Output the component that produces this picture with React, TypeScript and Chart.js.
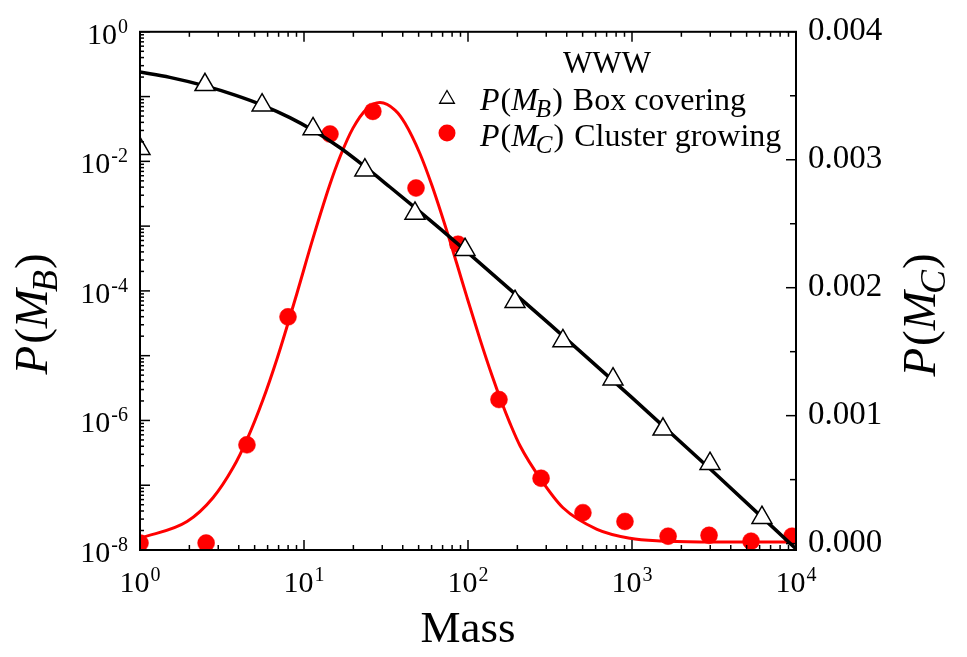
import React, { useEffect, useRef } from 'react';
import { Chart, registerables } from 'chart.js';
Chart.register(...registerables);

const FONT = '"Liberation Serif", "Times New Roman", serif';

// x axis (Mass) decades and tick exponents
const massTickExponents = [0, 1, 2, 3, 4];
const pbTickExponents = [0, -2, -4, -6, -8];
const pcTicks = [0, 0.001, 0.002, 0.003, 0.004];

// P(M_B) Box covering (open triangles)
const boxMass = [1, 2.49, 5.55, 11.35, 23.5, 47.5, 95.9, 193.5, 379, 766, 1545, 2990, 6200];
const boxP = [0.0157, 0.152, 0.0735, 0.0316, 0.00731, 0.00157, 4.33e-4, 6.8e-5, 1.69e-5, 4.33e-6, 7.3e-7, 2.15e-7, 3.16e-8];

// black fitted curve
const boxFitMass = [1, 1.52, 2.49, 3.8, 5.55, 8.2, 11.35, 16.6, 23.5, 33.4, 47.5, 67.5, 95.9, 316, 1000, 3162, 10000];
const boxFitP = [0.2392, 0.1981, 0.1463, 0.1054, 0.0741, 0.0474, 0.0302, 0.01619, 0.00828, 0.00402, 0.001927, 0.000913, 0.000427, 3.04e-5, 2.25e-6, 1.57e-7, 1.04e-8];

// P(M_C) Cluster growing (red dots)
const clusterMass = [1, 2.53, 4.49, 7.99, 14.4, 26.3, 48.2, 86.9, 154.5, 279, 502, 906, 1660, 2950, 5320, 9460];
const clusterP = [0.000004, 0.000004, 0.000772, 0.001772, 0.003201, 0.003378, 0.002779, 0.00234, 0.001126, 0.000511, 0.000242, 0.000173, 0.000058, 0.000065, 0.000019, 0.000058];

// red fitted curve
const clusterFitMass = [1, 1.935, 2.787, 3.69, 4.49, 5.62, 6.85, 7.99, 9.07, 11.34, 14.4, 16.58, 19.89, 24.22, 29.07, 35.88, 41.3, 50.96, 60.3, 74.5, 85.7, 98.6, 118.4, 140.1, 158.9, 180.4, 207.6, 278.7, 379.6, 611.8, 972, 1482, 2598, 10000];
const clusterFitP = [0.000042, 0.000172, 0.000358, 0.000592, 0.000813, 0.001124, 0.001445, 0.001722, 0.001959, 0.002385, 0.002808, 0.003023, 0.003247, 0.0034, 0.003447, 0.003388, 0.003285, 0.003047, 0.002798, 0.002438, 0.002183, 0.001924, 0.001596, 0.001313, 0.001118, 0.00094, 0.000765, 0.0005, 0.00028, 0.000112, 0.000042, 0.00002, 0.000013, 0.000012];

const legendTitle = 'WWW';

type Part = { t: string; size: number; italic?: boolean; dy?: number; gap?: number };

function fontOf(p: Part) {
  return `${p.italic ? 'italic ' : ''}${p.size}px ${FONT}`;
}
function richWidth(ctx: CanvasRenderingContext2D, parts: Part[]) {
  let w = 0;
  for (const p of parts) {
    ctx.font = fontOf(p);
    w += (p.gap || 0) + ctx.measureText(p.t).width;
  }
  return w;
}
function drawRich(ctx: CanvasRenderingContext2D, parts: Part[], x: number, y: number, align: 'left' | 'center' | 'right') {
  const w = richWidth(ctx, parts);
  let cx = align === 'left' ? x : align === 'center' ? x - w / 2 : x - w;
  ctx.textAlign = 'left';
  ctx.textBaseline = 'alphabetic';
  for (const p of parts) {
    ctx.font = fontOf(p);
    cx += p.gap || 0;
    ctx.fillText(p.t, cx, y + (p.dy || 0));
    cx += ctx.measureText(p.t).width;
  }
}

const framePlugin = {
  id: 'frameAndText',
  afterDraw(chart: any) {
    const { ctx, chartArea: a, scales } = chart;
    const xs = scales.x;
    const yB = scales.yB;
    const yC = scales.yC;
    ctx.save();
    ctx.strokeStyle = '#000';
    ctx.fillStyle = '#000';
    const seg = (x1: number, y1: number, x2: number, y2: number) => {
      ctx.beginPath();
      ctx.moveTo(x1, y1);
      ctx.lineTo(x2, y2);
      ctx.stroke();
    };
    // ticks
    ctx.lineWidth = 1.5;
    for (let e = 0; e <= 4; e++) {
      for (let m = 1; m <= 9; m++) {
        const v = m * Math.pow(10, e);
        if (v > 10000) break;
        const px = xs.getPixelForValue(v);
        const len = m === 1 ? 10 : 5;
        seg(px, a.bottom, px, a.bottom - len);
        seg(px, a.top, px, a.top + len);
      }
    }
    for (let e = -8; e <= 0; e++) {
      for (let m = 1; m <= 9; m++) {
        const v = m * Math.pow(10, e);
        if (v > 1) break;
        const py = yB.getPixelForValue(v);
        const len = m === 1 ? 10 : 4;
        seg(a.left, py, a.left + len, py);
      }
    }
    for (let k = 0; k <= 8; k++) {
      const py = yC.getPixelForValue(k * 0.0005);
      seg(a.right, py, a.right - (k % 2 === 0 ? 10 : 6), py);
    }
    // frame
    ctx.lineWidth = 2;
    ctx.strokeRect(a.left, a.top, a.right - a.left, a.bottom - a.top);

    // x tick labels
    for (const e of massTickExponents) {
      const px = xs.getPixelForValue(Math.pow(10, e));
      drawRich(ctx, [
        { t: '10', size: 30 },
        { t: String(e), size: 20, dy: -11, gap: 1 },
      ], px, a.bottom + 42, 'center');
    }
    // left tick labels
    for (const e of pbTickExponents) {
      const py = yB.getPixelForValue(Math.pow(10, e));
      drawRich(ctx, [
        { t: '10', size: 30 },
        { t: String(e), size: 20, dy: -11, gap: 1 },
      ], a.left - 12, py + 12, 'right');
    }

    // x title
    drawRich(ctx, [{ t: 'Mass', size: 45 }], 468, 642, 'center');

    // y titles
    const title = (sub: string, cx: number, cy: number) => {
      ctx.save();
      ctx.translate(cx, cy);
      ctx.rotate(-Math.PI / 2);
      drawRich(ctx, [
        { t: 'P', size: 47, italic: true },
        { t: '(', size: 47, gap: 2 },
        { t: 'M', size: 47, italic: true },
        { t: sub, size: 36, italic: true, dy: 10, gap: -3 },
        { t: ')', size: 47, gap: 1 },
      ], 0, 0, 'center');
      ctx.restore();
    };
    title('B', 47, 314);
    title('C', 935, 315);

    // legend
    drawRich(ctx, [{ t: legendTitle, size: 31 }], 607, 73, 'center');
    const tx = 447, ty = 99, r = 8.5;
    ctx.lineWidth = 1.3;
    ctx.fillStyle = '#fff';
    ctx.beginPath();
    ctx.moveTo(tx, ty - r);
    ctx.lineTo(tx + r * Math.sin(Math.PI / 3), ty + r * 0.5);
    ctx.lineTo(tx - r * Math.sin(Math.PI / 3), ty + r * 0.5);
    ctx.closePath();
    ctx.fill();
    ctx.stroke();
    ctx.fillStyle = '#ff0000';
    ctx.beginPath();
    ctx.arc(447, 133, 8.5, 0, Math.PI * 2);
    ctx.fill();
    ctx.fillStyle = '#000';
    const row = (sub: string, text: string, y: number) => {
      drawRich(ctx, [
        { t: 'P', size: 32, italic: true },
        { t: '(', size: 32, gap: 1 },
        { t: 'M', size: 32, italic: true },
        { t: sub, size: 25, italic: true, dy: 7, gap: -2 },
        { t: ')', size: 32, gap: 1 },
        { t: text, size: 32, gap: 10 },
      ], 480, y, 'left');
    };
    row('B', 'Box covering', 110);
    row('C', 'Cluster growing', 146);
    ctx.restore();
  },
};

export default function App() {
  const ref = useRef<HTMLCanvasElement>(null);
  useEffect(() => {
    const chart = new Chart(ref.current as HTMLCanvasElement, {
      type: 'line',
      data: {
        datasets: [
          {
            label: 'P(M_B) Box covering',
            data: boxMass.map((m, i) => ({ x: m, y: boxP[i] })),
            yAxisID: 'yB',
            showLine: false,
            pointStyle: 'triangle',
            pointRadius: 11.5,
            pointBackgroundColor: '#ffffff',
            pointBorderColor: '#000000',
            pointBorderWidth: 1.5,
            borderColor: '#000000',
            clip: 0,
            order: 0,
          },
          {
            label: 'Box fit',
            data: boxFitMass.map((m, i) => ({ x: m, y: boxFitP[i] })),
            yAxisID: 'yB',
            borderColor: '#000000',
            borderWidth: 3.5,
            pointRadius: 0,
            cubicInterpolationMode: 'monotone',
            clip: 0,
            order: 1,
          },
          {
            label: 'P(M_C) Cluster growing',
            data: clusterMass.map((m, i) => ({ x: m, y: clusterP[i] })),
            yAxisID: 'yC',
            showLine: false,
            pointStyle: 'circle',
            pointRadius: 8.5,
            pointBackgroundColor: '#ff0000',
            pointBorderColor: '#ff0000',
            pointBorderWidth: 0.5,
            borderColor: '#ff0000',
            clip: 0,
            order: 2,
          },
          {
            label: 'Cluster fit',
            data: clusterFitMass.map((m, i) => ({ x: m, y: clusterFitP[i] })),
            yAxisID: 'yC',
            borderColor: '#ff0000',
            borderWidth: 3,
            pointRadius: 0,
            cubicInterpolationMode: 'monotone',
            clip: 0,
            order: 3,
          },
        ],
      },
      options: {
        responsive: false,
        animation: false,
        devicePixelRatio: 1,
        layout: { padding: { top: 23, left: 0, right: 0, bottom: 0 } },
        plugins: { legend: { display: false }, tooltip: { enabled: false } },
        scales: {
          x: {
            type: 'logarithmic',
            position: 'bottom',
            min: 1,
            max: 10000,
            bounds: 'data',
            grid: { display: false, drawTicks: false },
            border: { display: false },
            ticks: { display: false },
            afterFit: (s: any) => { s.height = 107; },
          },
          yB: {
            type: 'logarithmic',
            position: 'left',
            min: 1e-8,
            max: 1,
            bounds: 'data',
            grid: { display: false, drawTicks: false },
            border: { display: false },
            ticks: { display: false },
            afterFit: (s: any) => { s.width = 140; },
          },
          yC: {
            type: 'linear',
            position: 'right',
            min: -0.00005,
            max: 0.004,
            bounds: 'data',
            grid: { display: false, drawTicks: false },
            border: { display: false },
            afterBuildTicks: (s: any) => { s.ticks = pcTicks.map((v) => ({ value: v })); },
            ticks: {
              color: '#000',
              padding: 12,
              font: { family: FONT, size: 33 },
              callback: (v: any) => Number(v).toFixed(3),
            },
            afterFit: (s: any) => { s.width = 171; },
          },
        },
      },
      plugins: [framePlugin],
    } as any);
    return () => chart.destroy();
  }, []);
  return (
    <canvas
      ref={ref}
      width={967}
      height={657}
      style={{ position: 'fixed', left: 0, top: 0, width: 967, height: 657 }}
    />
  );
}
